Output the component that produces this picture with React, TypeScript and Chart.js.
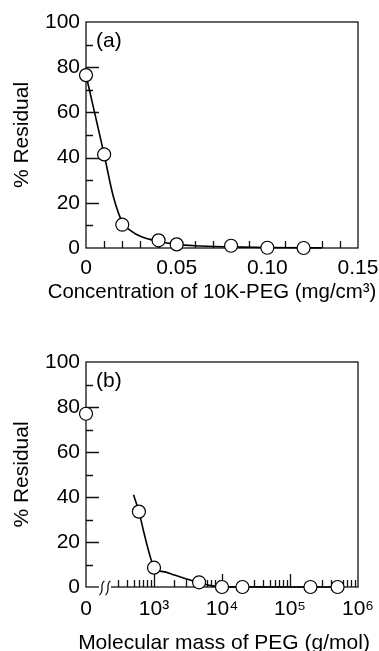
import { useEffect, useRef } from 'react';
import { Chart, registerables } from 'chart.js';
Chart.register(...registerables);

const FONT = '"Liberation Sans", Arial, Helvetica, sans-serif';
const FS = 21;

// ---------- Panel (a): concentration of 10K-PEG ----------
const concX = [0, 0.01, 0.02, 0.04, 0.05, 0.08, 0.1, 0.12];
const concResidual = [76.5, 41.4, 10.3, 3.4, 1.6, 1.0, 0.1, 0];
const concFitX = [0, 0.005, 0.01, 0.015, 0.02, 0.025, 0.03, 0.04, 0.05, 0.06, 0.08, 0.1, 0.13];
const concFitY = [76.5, 59, 41.4, 23, 11.5, 7.5, 5.2, 2.9, 1.6, 1.0, 0.5, 0.2, 0.05];
const concTicks = [0, 0.05, 0.1, 0.15];
const concTickLabels = ['0', '0.05', '0.10', '0.15'];

// ---------- Panel (b): molecular mass of PEG (log axis, "0" drawn at 10^2) ----------
const massX = [100, 600, 1000, 4600, 10000, 20000, 200000, 500000];
const massResidual = [77, 33.5, 8.6, 2.1, 0, 0, 0, 0];
const massFitX = [500, 600, 700, 800, 900, 1000, 1500, 2000, 3000, 4600, 7000, 10000, 500000];
const massFitY = [41, 33.5, 25, 18, 12.5, 8.6, 6.6, 5.3, 3.6, 1.9, 0.6, 0.05, 0];
const massTicks = [100, 1000, 10000, 100000, 1000000];
const massTickLabels = ['0', '10³', '10⁴', '10⁵', '10⁶'];

const residualTicks = [0, 20, 40, 60, 80, 100];
const residualTickLabels = ['0', '20', '40', '60', '80', '100'];

type PanelCfg = {
  letter: string;
  xTitle: string;
  xTitleX: number;
  xTitleY: number;
  xTitleSize: number;
  inwardX: { v: number; len: number }[];
  breakValue?: number;
};

function decorPlugin(cfg: PanelCfg) {
  return {
    id: 'decor',
    beforeDatasetsDraw(chart: any) {
      const { ctx, chartArea } = chart;
      const { left, right, top, bottom } = chartArea;
      const xs = chart.scales.x;
      const ys = chart.scales.y;
      ctx.save();
      ctx.strokeStyle = '#111';
      ctx.lineWidth = 1.3;
      ctx.beginPath();
      for (let v = 10; v < 100; v += 10) {
        const y = Math.round(ys.getPixelForValue(v)) + 0.5;
        const len = v % 20 === 0 ? 13 : 7;
        ctx.moveTo(left, y);
        ctx.lineTo(left + len, y);
      }
      for (const t of cfg.inwardX) {
        const x = Math.round(xs.getPixelForValue(t.v)) + 0.5;
        ctx.moveTo(x, bottom);
        ctx.lineTo(x, bottom - t.len);
      }
      ctx.stroke();
      ctx.strokeRect(left, top, right - left, bottom - top);
      if (cfg.breakValue) {
        const bx = xs.getPixelForValue(cfg.breakValue);
        ctx.fillStyle = '#fff';
        ctx.fillRect(bx - 6, bottom - 2, 12, 4);
        ctx.beginPath();
        for (const off of [-3, 3]) {
          const cx = bx + off;
          ctx.moveTo(cx + 2.5, bottom - 6);
          ctx.bezierCurveTo(cx - 3, bottom - 3, cx + 3, bottom + 4, cx - 2.5, bottom + 8);
        }
        ctx.lineWidth = 1.3;
        ctx.stroke();
      }
      ctx.restore();
    },
    afterDraw(chart: any) {
      const { ctx, chartArea } = chart;
      ctx.save();
      ctx.fillStyle = '#000';
      ctx.font = `${FS}px ${FONT}`;
      ctx.textBaseline = 'middle';
      ctx.textAlign = 'left';
      ctx.fillText(cfg.letter, chartArea.left + 10, chartArea.top + 19);
      ctx.save();
      ctx.translate(22, (chartArea.top + chartArea.bottom) / 2);
      ctx.rotate(-Math.PI / 2);
      ctx.textAlign = 'center';
      ctx.fillText('% Residual', 0, 0);
      ctx.restore();
      ctx.textAlign = 'center';
      ctx.font = `${cfg.xTitleSize}px ${FONT}`;
      ctx.fillText(cfg.xTitle, cfg.xTitleX, cfg.xTitleY);
      ctx.restore();
    },
  };
}

function makeConfig(opts: {
  px: number[]; py: number[]; fx: number[]; fy: number[];
  xScale: any; padTop: number; xHeight: number; xPad: number; cfg: PanelCfg;
}) {
  const font = { family: FONT, size: FS };
  return {
    type: 'scatter' as const,
    data: {
      datasets: [
        {
          type: 'line' as const,
          data: opts.fx.map((x, i) => ({ x, y: opts.fy[i] })),
          borderColor: '#000',
          borderWidth: 1.6,
          pointRadius: 0,
          cubicInterpolationMode: 'monotone' as const,
          fill: false,
          clip: false as const,
          order: 2,
        },
        {
          type: 'scatter' as const,
          data: opts.px.map((x, i) => ({ x, y: opts.py[i] })),
          pointRadius: 6.5,
          pointBackgroundColor: '#fff',
          pointBorderColor: '#000',
          pointBorderWidth: 1.2,
          clip: false as const,
          order: 1,
        },
      ],
    },
    options: {
      animation: false as const,
      responsive: false,
      events: [],
      layout: { padding: { top: opts.padTop, right: 21, left: 0, bottom: 0 } },
      plugins: { legend: { display: false }, tooltip: { enabled: false } },
      scales: {
        x: {
          ...opts.xScale,
          ticks: {
            ...opts.xScale.ticks,
            font, color: '#000', padding: opts.xPad, maxRotation: 0, autoSkip: false,
          },
          grid: { display: false, drawTicks: false },
          border: { display: false },
          afterFit: (s: any) => {
            s.height = opts.xHeight;
            s.paddingLeft = 0;
            s.paddingRight = 0;
          },
        },
        y: {
          type: 'linear' as const,
          min: 0,
          max: 100,
          afterBuildTicks: (s: any) => { s.ticks = residualTicks.map((v) => ({ value: v })); },
          ticks: {
            callback: (_v: any, i: number) => residualTickLabels[i],
            font, color: '#000', padding: 6, autoSkip: false,
          },
          grid: { display: false, drawTicks: false },
          border: { display: false },
          afterFit: (s: any) => {
            s.width = 86;
            s.paddingTop = 0;
            s.paddingBottom = 0;
          },
        },
      },
    },
    plugins: [decorPlugin(opts.cfg)],
  };
}

const concInward = Array.from({ length: 14 }, (_, i) => ({ v: (i + 1) / 100, len: 7 }));
const massInward: { v: number; len: number }[] = [];
for (const dec of [100, 1000, 10000, 100000]) {
  for (let m = 2; m <= 9; m++) {
    if (dec === 100 && m === 2) continue;
    massInward.push({ v: dec * m, len: 7 });
  }
  if (dec > 100) massInward.push({ v: dec, len: 13 });
}

export default function App() {
  const r1 = useRef<HTMLCanvasElement>(null);
  const r2 = useRef<HTMLCanvasElement>(null);
  useEffect(() => {
    const c1 = new Chart(r1.current!, makeConfig({
      px: concX, py: concResidual, fx: concFitX, fy: concFitY,
      xScale: {
        type: 'linear', min: 0, max: 0.15,
        afterBuildTicks: (s: any) => { s.ticks = concTicks.map((v) => ({ value: v })); },
        ticks: { callback: (_v: any, i: number) => concTickLabels[i] },
      },
      padTop: 22, xHeight: 72, xPad: 8,
      cfg: {
        letter: '(a)', xTitle: 'Concentration of 10K-PEG (mg/cm³)', xTitleX: 212, xTitleY: 292,
        xTitleSize: 20.4, inwardX: concInward,
      },
    }) as any);
    const c2 = new Chart(r2.current!, makeConfig({
      px: massX, py: massResidual, fx: massFitX, fy: massFitY,
      xScale: {
        type: 'logarithmic', min: 100, max: 1000000,
        afterBuildTicks: (s: any) => { s.ticks = massTicks.map((v) => ({ value: v })); },
        ticks: { callback: (_v: any, i: number) => massTickLabels[i] },
      },
      padTop: 42, xHeight: 64, xPad: 10,
      cfg: {
        letter: '(b)', xTitle: 'Molecular mass of PEG (g/mol)', xTitleX: 224, xTitleY: 323,
        xTitleSize: 21, inwardX: massInward, breakValue: 190,
      },
    }) as any);
    return () => { c1.destroy(); c2.destroy(); };
  }, []);
  return (
    <div style={{ position: 'absolute', left: 0, top: 0, width: 379, height: 651, background: '#fff' }}>
      <canvas ref={r1} width={379} height={320} style={{ display: 'block' }} />
      <canvas ref={r2} width={379} height={331} style={{ display: 'block' }} />
    </div>
  );
}
